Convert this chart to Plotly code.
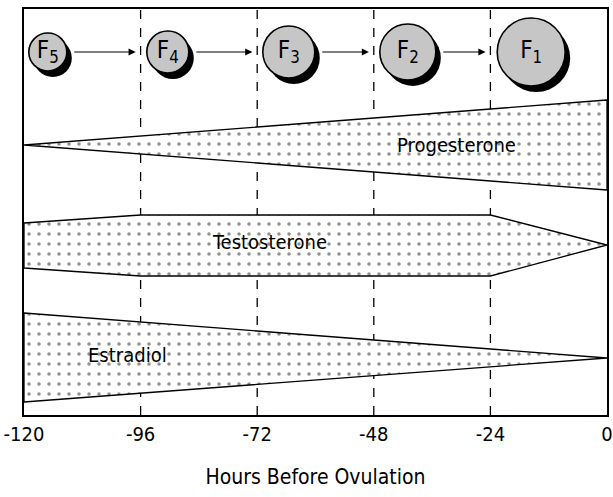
import plotly.graph_objects as go

# ---- data ----
hours = [-120, -96, -72, -48, -24, 0]
tick_labels = ["-120", "-96", "-72", "-48", "-24", "0"]

follicle_labels = ["F<sub>5</sub>", "F<sub>4</sub>", "F<sub>3</sub>", "F<sub>2</sub>", "F<sub>1</sub>"]
follicle_hours = [-115.1, -90.4, -65.5, -41.0, -15.6]
follicle_diam = [38, 42, 52, 56, 68]
follicle_level = 363

prog_x = [-120, 0]
prog_upper = [270, 315]
prog_lower = [270, 225]

testo_x = [-120, -96, -24, 0]
testo_upper = [192, 200, 200, 170]
testo_lower = [147, 139, 139, 170]

estra_x = [-120, 0]
estra_upper = [102, 57]
estra_lower = [13, 57]

hormones = [
    ("Progesterone", prog_x, prog_upper, prog_lower, -31, 270),
    ("Testosterone", testo_x, testo_upper, testo_lower, -69.5, 173),
    ("Estradiol", estra_x, estra_upper, estra_lower, -98.8, 60),
]

FONT = "DejaVu Sans Condensed"
fig = go.Figure()

for name, xs, up, lo, lx, ly in hormones:
    px = list(xs) + list(reversed(xs)) + [xs[0]]
    py = list(up) + list(reversed(lo)) + [up[0]]
    fig.add_trace(go.Scatter(
        x=px, y=py, mode="lines", fill="toself",
        fillcolor="white",
        fillpattern=dict(shape=".", fgcolor="#222", bgcolor="white", size=10, solidity=0.1),
        line=dict(color="black", width=1.3),
        hoverinfo="skip", showlegend=False))
    fig.add_annotation(x=lx, y=ly, text=name, showarrow=False,
                       font=dict(family=FONT, size=20, color="black"))

# follicle shadows and circles
units_per_px = 120 / 583
fig.add_trace(go.Scatter(
    x=[h + 5 * units_per_px for h in follicle_hours],
    y=[follicle_level - 6] * len(follicle_hours),
    mode="markers",
    marker=dict(size=follicle_diam, color="black", opacity=1, line=dict(width=0)),
    hoverinfo="skip", showlegend=False))
fig.add_trace(go.Scatter(
    x=follicle_hours, y=[follicle_level] * len(follicle_hours),
    mode="markers+text", text=follicle_labels, textposition="middle center",
    textfont=dict(family=FONT, size=24, color="black"),
    marker=dict(size=follicle_diam, color="#c6c6c6", opacity=1,
                line=dict(width=1.6, color="black")),
    hoverinfo="skip", showlegend=False))

# arrows between follicles
for i in range(len(follicle_hours) - 1):
    start = follicle_hours[i] + (follicle_diam[i] / 2 + 6) * units_per_px
    end = hours[i + 1] - 1.0
    fig.add_annotation(x=end, y=follicle_level, ax=start, ay=follicle_level,
                       xref="x", yref="y", axref="x", ayref="y",
                       showarrow=True, arrowhead=2, arrowsize=1.3, arrowwidth=1.1,
                       arrowcolor="black", text="")

# dashed vertical lines
for h in hours[1:-1]:
    fig.add_shape(type="line", x0=h, x1=h, y0=0, y1=1, xref="x", yref="paper",
                  line=dict(color="black", width=1.3, dash="dash"), layer="below")

fig.update_layout(
    width=613, height=497,
    margin=dict(l=24, r=6, t=9, b=82, autoexpand=False),
    plot_bgcolor="white", paper_bgcolor="white",
    xaxis=dict(range=[-120, 0], tickvals=hours, ticktext=tick_labels,
               automargin=False,
               showgrid=False, zeroline=False, showline=True, mirror=True,
               linecolor="black", linewidth=2, ticks="",
               tickfont=dict(family=FONT, size=20, color="black"),
               title=dict(text="Hours Before Ovulation", standoff=24,
                          font=dict(family=FONT, size=21, color="black"))),
    yaxis=dict(range=[0, 406], showgrid=False, zeroline=False, showline=True,
               automargin=False,
               mirror=True, linecolor="black", linewidth=2, showticklabels=False,
               ticks=""),
)

fig.write_html("out.html", config={"displayModeBar": False},
               post_script="document.body.style.margin='0';document.body.style.overflow='hidden';")
